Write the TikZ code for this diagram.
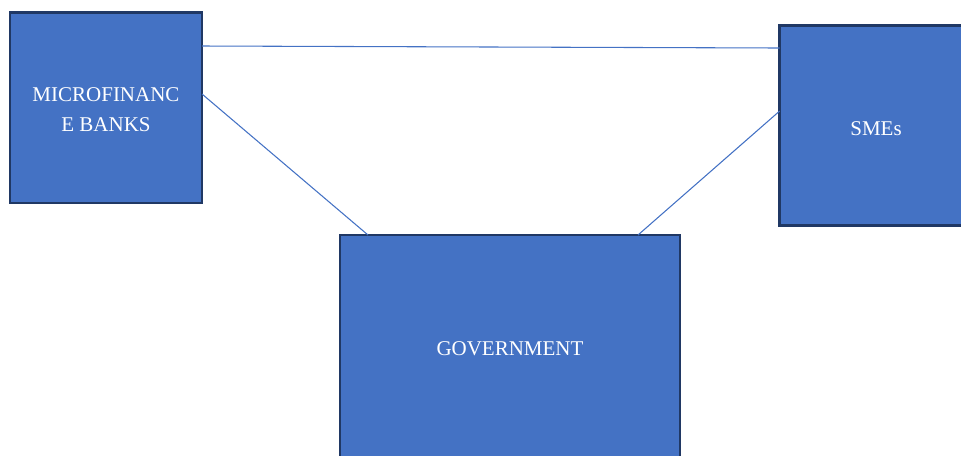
\documentclass[tikz,border=0pt]{standalone}
\usepackage{fontspec}
\setmainfont{Liberation Serif}
\definecolor{boxfill}{HTML}{4472C4}
\definecolor{boxedge}{HTML}{203864}
\definecolor{linkcol}{HTML}{4472C4}
\begin{document}
\begin{tikzpicture}[x=0.75pt,y=-0.75pt,
  box/.style={draw=boxedge,fill=boxfill,line width=2pt,inner sep=0pt,outer sep=0pt},
  lbl/.style={text=white,font=\fontsize{15.75pt}{22.5pt}\selectfont,align=center,inner sep=0pt},
  link/.style={draw=linkcol,line width=0.8pt}]
\useasboundingbox (0,0) rectangle (961,455);
\clip (0,0) rectangle (961,455);
\node[box,minimum width=144pt,minimum height=143pt] (mfb) at (106,107.5) {};
\node[box,minimum width=146pt,minimum height=150pt] (sme) at (877,125.5) {};
\node[box,minimum width=255pt,minimum height=180pt] (gov) at (510,355) {};
\node[lbl] (mfbt) at (106,110) {MICROFINANC\\E BANKS};
\node[lbl] (smet) at (876,129) {SMEs};
\node[lbl] (govt) at (510,349) {GOVERNMENT};
\draw[link] (mfb.east |- 0,46) -- (sme.west |- 0,48);
\draw[link] (mfb.east |- 0,94) -- (gov.north -| 368,0);
\draw[link] (sme.west |- 0,111) -- (gov.north -| 638,0);
\end{tikzpicture}
\end{document}
